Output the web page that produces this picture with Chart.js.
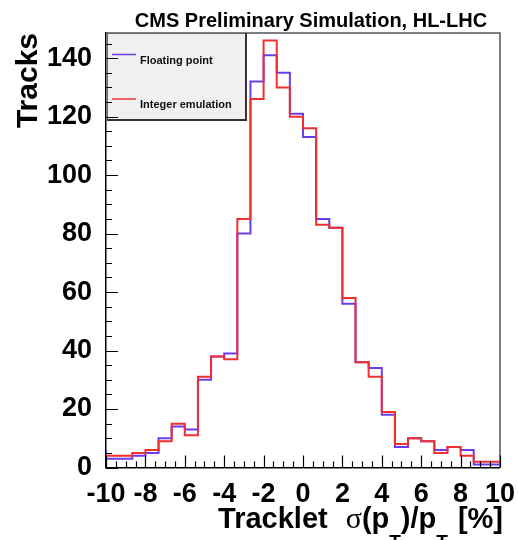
<!DOCTYPE html>
<html lang="en">
<head>
    <meta charset="UTF-8">
    <title>Tracklet pT resolution</title>
    <script src="https://cdn.jsdelivr.net/npm/chart.js"></script>
    <style>
        html, body { margin: 0; padding: 0; background: #fff; }
        canvas { display: block; }
    </style>
</head>
<body>
    <canvas id="resChart" width="518" height="540"></canvas>
    <script>
        // histogram bin edges (30 bins from -10 to 10)
        const binEdges = [-10, -9.333, -8.667, -8, -7.333, -6.667, -6, -5.333, -4.667, -4,
            -3.333, -2.667, -2, -1.333, -0.667, 0, 0.667, 1.333, 2, 2.667,
            3.333, 4, 4.667, 5.333, 6, 6.667, 7.333, 8, 8.667, 9.333, 10];
        const floatingPoint = [6, 3, 3, 4, 5, 10, 14, 13, 30, 38, 39, 80, 132, 141, 135,
            121, 113, 85, 82, 56, 36, 34, 18, 7, 10, 9, 6, 7, 6, 1];
        const integerEmulation = [5, 4, 4, 5, 6, 9, 15, 11, 31, 38, 37, 85, 126, 146, 130,
            120, 116, 83, 82, 58, 36, 31, 19, 8, 10, 9, 5, 7, 4, 2];
        const xTickValues = [-10, -8, -6, -4, -2, 0, 2, 4, 6, 8, 10];
        const yTickValues = [0, 20, 40, 60, 80, 100, 120, 140];
        const seriesLabels = ['Floating point', 'Integer emulation'];

        const FONT = '"Liberation Sans", Arial, Helvetica, sans-serif';

        // outline points for a stepped histogram
        function histPoints(values) {
            const pts = [{ x: binEdges[0], y: 0 }];
            values.forEach((v, i) => pts.push({ x: binEdges[i], y: v }));
            pts.push({ x: binEdges[binEdges.length - 1], y: values[values.length - 1] });
            pts.push({ x: binEdges[binEdges.length - 1], y: 0 });
            return pts;
        }

        const rootStyle = {
            id: 'rootStyle',
            afterDatasetsDraw(chart) {
                const { ctx, chartArea: a } = chart;
                // frame top / right
                ctx.save();
                ctx.strokeStyle = '#555';
                ctx.lineWidth = 1.5;
                ctx.beginPath();
                ctx.moveTo(a.left, a.top);
                ctx.lineTo(a.right, a.top);
                ctx.lineTo(a.right, a.bottom);
                ctx.stroke();

                // legend box
                const lx = 107, ly = 33, lw = 139, lh = 87;
                ctx.fillStyle = '#f0f0f0';
                ctx.fillRect(lx, ly, lw, lh);
                ctx.strokeStyle = '#666';
                ctx.lineWidth = 1;
                ctx.strokeRect(lx + 0.5, ly + 0.5, lw, lh);
                ctx.strokeStyle = '#333';
                ctx.lineWidth = 2;
                ctx.beginPath();
                ctx.moveTo(lx + lw, ly);
                ctx.lineTo(lx + lw, ly + lh);
                ctx.lineTo(lx, ly + lh);
                ctx.stroke();

                const entries = [
                    { label: seriesLabels[0], color: chart.data.datasets[0].borderColor, y: 54.5 },
                    { label: seriesLabels[1], color: chart.data.datasets[1].borderColor, y: 99 }
                ];
                ctx.font = 'bold 11px ' + FONT;
                ctx.textBaseline = 'middle';
                ctx.textAlign = 'left';
                entries.forEach(e => {
                    ctx.strokeStyle = e.color;
                    ctx.lineWidth = 1.5;
                    ctx.beginPath();
                    ctx.moveTo(112, e.y);
                    ctx.lineTo(136, e.y);
                    ctx.stroke();
                    ctx.fillStyle = '#111';
                    ctx.fillText(e.label, 140, e.y + 6);
                });
                ctx.restore();
            },
            afterDraw(chart) {
                const { ctx, chartArea: a, scales: { x, y } } = chart;
                ctx.save();
                ctx.strokeStyle = '#000';
                ctx.lineWidth = 1.2;
                ctx.beginPath();
                // x ticks, inward
                for (let v = -10; v <= 10.001; v += 0.5) {
                    const px = Math.round(x.getPixelForValue(v)) + 0.5;
                    const len = Math.abs(v % 2) < 0.01 ? 12 : 6;
                    ctx.moveTo(px, a.bottom);
                    ctx.lineTo(px, a.bottom - len);
                }
                // y ticks, inward
                for (let v = 0; v <= 145; v += 5) {
                    const py = Math.round(y.getPixelForValue(v)) + 0.5;
                    const len = v % 20 === 0 ? 12 : 6;
                    ctx.moveTo(a.left, py);
                    ctx.lineTo(a.left + len, py);
                }
                ctx.stroke();

                // title
                ctx.fillStyle = '#000';
                ctx.font = 'bold 20px ' + FONT;
                ctx.textAlign = 'center';
                ctx.textBaseline = 'alphabetic';
                ctx.fillText('CMS Preliminary Simulation, HL-LHC', 311, 27);

                // y title
                ctx.save();
                ctx.translate(37, a.top);
                ctx.rotate(-Math.PI / 2);
                ctx.font = 'bold 30px ' + FONT;
                ctx.textAlign = 'right';
                ctx.fillText('Tracks', 0, 0);
                ctx.restore();

                // x title with subscripts
                const big = 'bold 29px ' + FONT;
                const sub = 'bold 19px ' + FONT;
                const sym = '30px "Liberation Serif", "DejaVu Serif", serif';
                const parts = [
                    { t: 'Tracklet', f: big, dy: 0, gap: 18 },
                    { t: 'σ', f: sym, dy: 0, gap: 0 },
                    { t: '(p', f: big, dy: 0, gap: 0 },
                    { t: 'T', f: sub, dy: 20, gap: 0 },
                    { t: ')/p', f: big, dy: 0, gap: 0 },
                    { t: 'T', f: sub, dy: 20, gap: 10 },
                    { t: '[%]', f: big, dy: 0, gap: 0 }
                ];
                ctx.textAlign = 'left';
                let total = 0;
                parts.forEach(p => { ctx.font = p.f; p.w = ctx.measureText(p.t).width; total += p.w + p.gap; });
                let cx = 503 - total;
                parts.forEach(p => {
                    ctx.font = p.f;
                    ctx.fillText(p.t, cx, 528 + p.dy);
                    cx += p.w + p.gap;
                });
                ctx.restore();
            }
        };

        const ctx = document.getElementById('resChart').getContext('2d');
        new Chart(ctx, {
            type: 'line',
            data: {
                datasets: [
                    {
                        label: seriesLabels[0],
                        data: histPoints(floatingPoint),
                        borderColor: '#6a3cf0',
                        borderWidth: 2,
                        stepped: 'after',
                        pointRadius: 0,
                        fill: false,
                        order: 1
                    },
                    {
                        label: seriesLabels[1],
                        data: histPoints(integerEmulation),
                        borderColor: '#f03030',
                        borderWidth: 2,
                        stepped: 'after',
                        pointRadius: 0,
                        fill: false,
                        order: 0
                    }
                ]
            },
            options: {
                responsive: false,
                animation: false,
                layout: { padding: { left: 0, right: 17, top: 33, bottom: 0 } },
                plugins: { legend: { display: false }, tooltip: { enabled: false } },
                scales: {
                    x: {
                        type: 'linear',
                        min: -10,
                        max: 10,
                        grid: { display: false },
                        border: { display: true, color: '#000', width: 1.5 },
                        afterBuildTicks: s => { s.ticks = xTickValues.map(v => ({ value: v })); },
                        afterFit: s => { s.height = 72.5; },
                        ticks: {
                            color: '#000',
                            padding: 3,
                            maxRotation: 0,
                            autoSkip: false,
                            font: { family: FONT, size: 27, weight: 'bold' }
                        }
                    },
                    y: {
                        type: 'linear',
                        min: 0,
                        max: 148.6,
                        grid: { display: false },
                        border: { display: true, color: '#000', width: 1.5 },
                        afterBuildTicks: s => { s.ticks = yTickValues.map(v => ({ value: v })); },
                        afterFit: s => { s.width = 106; },
                        ticks: {
                            color: '#000',
                            padding: 6,
                            autoSkip: false,
                            font: { family: FONT, size: 27, weight: 'bold' }
                        }
                    }
                }
            },
            plugins: [rootStyle]
        });
    </script>
</body>
</html>
